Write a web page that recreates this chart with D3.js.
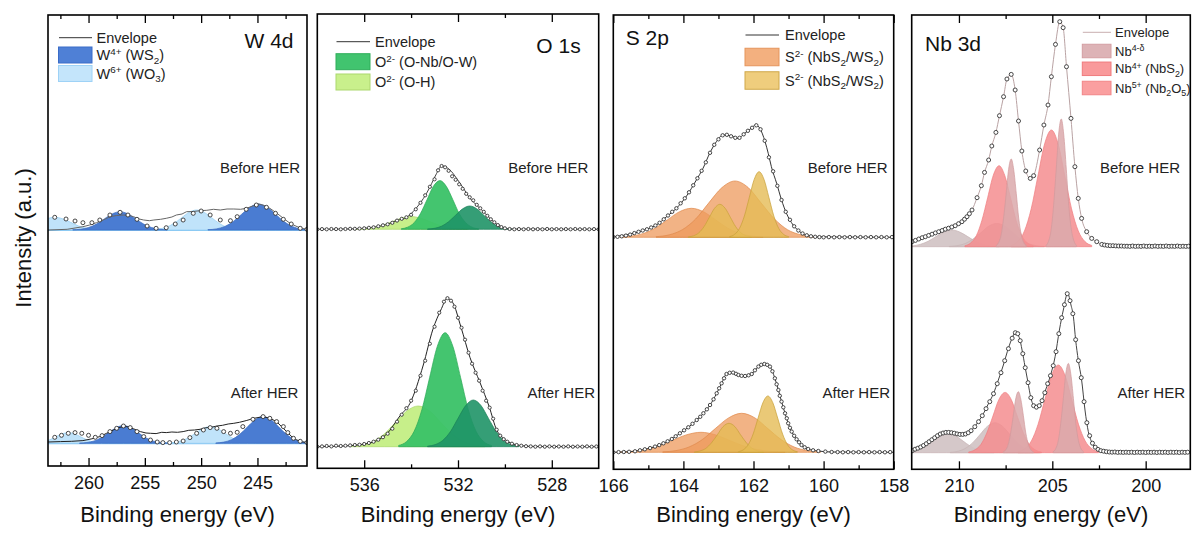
<!DOCTYPE html>
<html>
<head>
<meta charset="utf-8">
<script src="https://cdn.jsdelivr.net/npm/d3@7"></script>
<style>
  body { margin: 0; background: #fff; }
  svg { display: block; }
  text { font-family: "Liberation Sans", Arial, sans-serif; }
</style>
</head>
<body>
<svg id="chart" width="1192" height="536"></svg>
<script>
// ---------- shared labels ----------
const panelTitles = ["W 4d", "O 1s", "S 2p", "Nb 3d"];
const stateLabels = ["Before HER", "After HER"];
const xAxisTitle = "Binding energy (eV)";
const yAxisTitle = "Intensity (a.u.)";

// ---------- W 4d ----------
const w4dDomain = [263.6, 240.6];
const w4dMajorTicks = [260, 255, 250, 245];
const w4dMinorTicks = [262.5, 257.5, 252.5, 247.5, 242.5];
const w4dOffsets = [23.8, 2.47];
const w4dLegendLabels = [
  [["W"], ["4+", "sup"], [" (WS"], ["2", "sub"], [")"]],
  [["W"], ["6+", "sup"], [" (WO"], ["3", "sub"], [")"]]
];
const w4dBeforeCounts = [[263.0,1.27],[262.0,1.1],[261.2,0.9],[260.5,0.73],[259.7,0.73],[259.0,1.0],[258.1,1.5],[257.2,1.77],[256.5,1.5],[255.7,1.07],[254.8,0.4],[254.0,0.17],[253.1,0.23],[252.3,0.6],[251.6,1.0],[250.7,1.67],[250.0,1.9],[249.2,1.5],[248.3,1.0],[247.4,0.93],[246.8,1.33],[246.0,2.07],[245.1,2.5],[244.2,2.27],[243.4,1.67],[242.7,1.07],[242.0,0.6],[241.2,0.17],[240.6,0.07]];
const w4dBeforeEnvelope = [[263.6,0],[262.8,0.03],[261.9,0.07],[261.2,0.2],[260.5,0.33],[259.9,0.5],[259.3,0.73],[258.7,1.0],[258.1,1.33],[257.5,1.45],[256.9,1.5],[256.4,1.45],[256.0,1.33],[255.5,1.1],[255.1,1.0],[254.6,0.93],[254.2,1.0],[253.6,1.07],[253.1,1.17],[252.6,1.3],[252.2,1.5],[251.7,1.6],[251.3,1.83],[250.7,1.85],[250.1,1.93],[249.5,1.97],[248.9,2.07],[248.3,2.0],[247.7,2.1],[247.1,2.1],[246.5,2.07],[246.0,2.17],[245.4,2.4],[244.9,2.6],[244.4,2.45],[243.9,2.17],[243.3,1.7],[242.7,1.17],[242.2,0.75],[241.8,0.5],[241.2,0.2],[240.6,0.07]];
const w4dBeforeWO3a = [[258.8,0.01],[259.5,0.06],[260.2,0.17],[260.9,0.41],[261.6,0.77],[262.3,1.12],[263.0,1.27],[263.7,1.12],[264.4,0.77]];
const w4dBeforeWO3b = [[246.35,0.02],[247.03,0.09],[247.7,0.27],[248.38,0.65],[249.05,1.21],[249.73,1.76],[250.4,2.0],[251.08,1.76],[251.75,1.21],[252.43,0.65],[253.1,0.27],[253.78,0.09],[254.45,0.02]];
const w4dBeforeWS2a = [[253.0,0.02],[253.7,0.08],[254.4,0.25],[255.1,0.59],[255.8,1.11],[256.5,1.61],[257.2,1.83],[257.9,1.61],[258.6,1.11],[259.3,0.59],[260.0,0.25],[260.7,0.08],[261.4,0.02]];
const w4dBeforeWS2b = [[240.4,0.03],[241.15,0.11],[241.9,0.35],[242.65,0.85],[243.4,1.58],[244.15,2.29],[244.9,2.6],[245.65,2.29],[246.4,1.58],[247.15,0.85],[247.9,0.35],[248.65,0.11],[249.4,0.03]];
const w4dAfterCounts = [[263.0,0.6],[262.4,0.8],[261.8,1.0],[261.2,1.07],[260.6,1.0],[260.0,0.8],[259.4,0.6],[258.8,0.77],[258.1,1.17],[257.5,1.5],[256.9,1.73],[256.3,1.57],[255.7,1.17],[255.1,0.67],[254.5,0.33],[253.9,0.13],[253.4,0.07],[252.8,0.07],[252.2,0.13],[251.6,0.23],[251.0,0.57],[250.4,1.0],[249.8,1.33],[249.2,1.57],[248.6,1.5],[248.0,1.17],[247.4,1.0],[246.8,1.1],[246.3,1.67],[245.4,2.4],[244.5,2.67],[243.9,2.5],[243.3,2.17],[242.7,1.67],[242.3,1.07],[241.8,0.5],[241.2,0.2],[240.6,0.07]];
const w4dAfterEnvelope = [[263.6,0.13],[262.5,0.17],[261.5,0.2],[260.5,0.27],[259.7,0.45],[259.0,0.67],[258.4,1.0],[257.8,1.33],[257.2,1.6],[256.6,1.67],[256.0,1.45],[255.4,1.17],[254.9,1.03],[254.5,1.0],[254.0,0.97],[253.5,1.1],[253.1,1.07],[252.6,1.13],[252.1,1.1],[251.6,1.17],[251.1,1.3],[250.6,1.33],[250.1,1.4],[249.6,1.55],[249.1,1.6],[248.6,1.73],[248.1,1.8],[247.6,1.93],[247.1,2.0],[246.6,2.1],[246.0,2.27],[245.3,2.5],[244.5,2.67],[243.9,2.5],[243.3,2.17],[242.8,1.6],[242.4,1.17],[241.9,0.6],[241.5,0.33],[241.0,0.15],[240.6,0.07]];
const w4dAfterWO3a = [[258.5,0.01],[259.05,0.05],[259.6,0.14],[260.15,0.35],[260.7,0.65],[261.25,0.94],[261.8,1.07],[262.35,0.94],[262.9,0.65],[263.45,0.35],[264.0,0.14]];
const w4dAfterWO3b = [[245.3,0.02],[245.95,0.07],[246.6,0.23],[247.25,0.54],[247.9,1.01],[248.55,1.47],[249.2,1.67],[249.85,1.47],[250.5,1.01],[251.15,0.54],[251.8,0.23],[252.45,0.07],[253.1,0.02]];
const w4dAfterWS2a = [[253.0,0.02],[253.65,0.08],[254.3,0.24],[254.95,0.58],[255.6,1.07],[256.25,1.56],[256.9,1.77],[257.55,1.56],[258.2,1.07],[258.85,0.58],[259.5,0.24],[260.15,0.08],[260.8,0.02]];
const w4dAfterWS2b = [[240.3,0.03],[241.0,0.12],[241.7,0.36],[242.4,0.87],[243.1,1.62],[243.8,2.35],[244.5,2.67],[245.2,2.35],[245.9,1.62],[246.6,0.87],[247.3,0.36],[248.0,0.12],[248.7,0.03]];

// ---------- O 1s ----------
const o1sDomain = [538, 526];
const o1sMajorTicks = [536, 532, 528];
const o1sMinorTicks = [534, 530];
const o1sOffsets = [23.87, 2.13];
const o1sLegendLabels = [
  [["O"], ["2-", "sup"], [" (O-Nb/O-W)"]],
  [["O"], ["2-", "sup"], [" (O-H)"]]
];
const o1sBeforeCounts = [[538.0,0],[537.8,0.02],[537.6,0],[537.4,0.03],[537.2,0.02],[537.0,0],[536.8,0.03],[536.6,0.05],[536.4,0.05],[536.2,0.07],[536.0,0.1],[535.8,0.15],[535.6,0.2],[535.4,0.3],[535.2,0.4],[535.0,0.5],[534.8,0.65],[534.6,0.87],[534.4,1.05],[534.2,1.2],[534.0,1.45],[533.8,2.0],[533.6,2.65],[533.4,3.4],[533.2,4.25],[533.0,5.0],[532.85,5.9],[532.7,6.33],[532.55,6.2],[532.4,5.85],[532.25,5.3],[532.1,4.95],[531.95,4.5],[531.8,4.05],[531.65,3.55],[531.5,3.2],[531.35,2.9],[531.2,2.45],[531.05,2.1],[530.9,1.75],[530.75,1.35],[530.6,1.0],[530.45,0.7],[530.3,0.42],[530.15,0.22],[530.0,0.1],[529.8,0.03],[529.6,0],[529.4,0.02],[529.2,0],[529.0,0.03],[528.8,0],[528.6,0.02],[528.4,0],[528.2,0.03],[528.0,0],[527.8,0.02],[527.6,0],[527.4,0.02],[527.2,0],[527.0,0.03],[526.8,0],[526.6,0.02],[526.4,0],[526.2,0.02],[526.0,0]];
const o1sBeforeEnvelope = [[538.0,0],[536.4,0.05],[536.0,0.1],[535.5,0.25],[535.0,0.5],[534.62,0.87],[534.19,1.2],[533.91,1.77],[533.62,2.6],[533.34,3.6],[533.12,4.6],[532.91,5.6],[532.7,6.33],[532.34,5.93],[532.06,5.1],[531.77,4.1],[531.49,3.1],[531.21,2.43],[530.92,1.77],[530.64,1.1],[530.35,0.53],[530.07,0.17],[529.78,0.03],[526.0,0]];
const o1sBeforeHydroxyl = [[531.6,0.01],[532.0,0.06],[532.4,0.17],[532.8,0.41],[533.2,0.77],[533.6,1.12],[534.0,1.27],[534.4,1.12],[534.8,0.77],[535.2,0.41],[535.6,0.17],[536.0,0.06],[536.4,0.01]];
const o1sBeforeLatticeA = [[531.12,0.05],[531.4,0.21],[531.67,0.66],[531.95,1.58],[532.22,2.96],[532.5,4.3],[532.77,4.87],[533.05,4.3],[533.32,2.96],[533.6,1.58],[533.87,0.66],[534.15,0.21],[534.42,0.05]];
const o1sBeforeLatticeB = [[529.7,0.03],[530.0,0.1],[530.3,0.31],[530.6,0.76],[530.9,1.41],[531.2,2.05],[531.5,2.33],[531.8,2.05],[532.1,1.41],[532.4,0.76],[532.7,0.31],[533.0,0.1],[533.3,0.03]];
const o1sAfterCounts = [[538.0,0],[537.8,0.03],[537.6,0.07],[537.4,0.03],[537.2,0.1],[537.0,0.07],[536.8,0.1],[536.6,0.13],[536.4,0.17],[536.2,0.2],[536.0,0.27],[535.8,0.37],[535.6,0.5],[535.4,0.7],[535.2,0.95],[535.0,1.3],[534.8,1.8],[534.6,2.5],[534.4,3.2],[534.2,3.85],[534.0,4.6],[533.8,5.6],[533.6,7.1],[533.4,8.6],[533.2,10.3],[533.0,12.0],[532.8,13.4],[532.6,14.5],[532.45,14.85],[532.3,14.6],[532.15,14.0],[532.0,12.9],[531.85,11.9],[531.7,10.7],[531.55,9.4],[531.4,8.3],[531.25,7.4],[531.1,6.6],[530.95,5.6],[530.8,4.6],[530.65,3.9],[530.5,2.8],[530.35,1.7],[530.2,1.1],[530.05,0.75],[529.9,0.5],[529.7,0.3],[529.5,0.17],[529.3,0.1],[529.1,0.05],[528.9,0.03],[528.7,0],[528.5,0.03],[528.3,0],[528.1,0.03],[527.9,0],[527.7,0.02],[527.5,0],[527.3,0.03],[527.1,0],[526.9,0.02],[526.7,0],[526.5,0.03],[526.3,0],[526.1,0.02]];
const o1sAfterEnvelope = [[538.0,0],[536.9,0.07],[536.18,0.2],[535.47,0.6],[535.04,1.27],[534.47,3.1],[534.05,4.33],[533.48,8.17],[533.08,11.67],[532.7,13.83],[532.48,14.83],[532.23,14.43],[531.87,11.93],[531.49,8.93],[531.06,6.4],[530.67,4.0],[530.35,1.67],[530.1,0.93],[529.78,0.4],[529.36,0.13],[528.93,0.03],[526.0,0]];
const o1sAfterHydroxyl = [[530.85,0.04],[531.32,0.18],[531.8,0.55],[532.27,1.32],[532.75,2.47],[533.22,3.59],[533.7,4.07],[534.17,3.59],[534.65,2.47],[535.12,1.32],[535.6,0.55],[536.07,0.18],[536.55,0.04]];
const o1sAfterLatticeA = [[530.57,0.13],[530.9,0.5],[531.23,1.54],[531.56,3.7],[531.89,6.92],[532.22,10.05],[532.55,11.4],[532.88,10.05],[533.21,6.92],[533.54,3.7],[533.87,1.54],[534.2,0.5],[534.53,0.13]];
const o1sAfterLatticeB = [[529.4,0.05],[529.72,0.21],[530.05,0.63],[530.37,1.52],[530.7,2.83],[531.02,4.12],[531.35,4.67],[531.67,4.12],[532.0,2.83],[532.32,1.52],[532.65,0.63],[532.97,0.21],[533.3,0.05]];

// ---------- S 2p ----------
const s2pDomain = [166, 158];
const s2pMajorTicks = [166, 164, 162, 160, 158];
const s2pMinorTicks = [165, 163, 161, 159];
const s2pOffsets = [23.07, 1.57];
const s2pLegendLabels = [
  [["S"], ["2-", "sup"], [" (NbS"], ["2", "sub"], ["/WS"], ["2", "sub"], [")"]],
  [["S"], ["2-", "sup"], [" (NbS"], ["2", "sub"], ["/WS"], ["2", "sub"], [")"]]
];
const s2pBeforeCounts = [[166.0,0.03],[165.88,0.05],[165.76,0.1],[165.64,0.17],[165.52,0.27],[165.4,0.42],[165.28,0.55],[165.16,0.68],[165.04,0.8],[164.92,0.98],[164.8,1.18],[164.68,1.45],[164.56,1.8],[164.44,2.18],[164.32,2.55],[164.2,2.9],[164.08,3.4],[163.96,3.9],[163.84,4.5],[163.72,5.2],[163.6,5.9],[163.48,6.65],[163.36,7.5],[163.24,8.45],[163.12,9.25],[163.0,9.8],[162.88,10.2],[162.76,10.25],[162.64,10.1],[162.52,9.95],[162.4,9.95],[162.28,10.3],[162.16,10.65],[162.04,10.95],[161.92,11.2],[161.8,10.8],[161.68,9.65],[161.56,8.0],[161.44,6.6],[161.32,5.15],[161.2,3.73],[161.08,2.55],[160.96,1.75],[160.84,1.1],[160.72,0.68],[160.6,0.38],[160.48,0.2],[160.36,0.1],[160.24,0.05],[160.12,0.02],[160.0,0],[159.85,0.02],[159.7,0],[159.55,0.02],[159.4,0],[159.25,0.02],[159.1,0],[158.95,0.02],[158.8,0],[158.65,0.02],[158.5,0],[158.35,0.02],[158.2,0],[158.05,0.02]];
const s2pBeforeEnvelope = [[166.0,0.05],[165.43,0.4],[165.05,0.8],[164.77,1.23],[164.48,2.06],[164.2,2.9],[163.91,4.13],[163.63,5.73],[163.44,6.9],[163.25,8.4],[163.06,9.56],[162.87,10.23],[162.63,10.13],[162.44,9.9],[162.25,10.4],[162.1,10.8],[161.93,11.23],[161.82,10.9],[161.67,9.56],[161.58,8.4],[161.49,7.06],[161.34,5.4],[161.2,3.73],[161.06,2.4],[160.87,1.23],[160.68,0.56],[160.5,0.2],[160.2,0.05],[158.0,0]];
const s2pBeforeDoubletA1 = [[161.73,0.03],[162.07,0.13],[162.41,0.39],[162.75,0.94],[163.09,1.76],[163.43,2.56],[163.77,2.9],[164.11,2.56],[164.45,1.76],[164.79,0.94],[165.13,0.39],[165.47,0.13],[165.81,0.03]];
const s2pBeforeDoubletA2 = [[160.28,0.06],[160.65,0.25],[161.03,0.76],[161.4,1.83],[161.78,3.42],[162.15,4.97],[162.53,5.63],[162.9,4.97],[163.28,3.42],[163.65,1.83],[164.03,0.76],[164.4,0.25],[164.78,0.06]];
const s2pBeforeDoubletB1 = [[162.06,0.04],[162.21,0.15],[162.36,0.45],[162.51,1.07],[162.66,2.0],[162.81,2.91],[162.96,3.3],[163.11,2.91],[163.26,2.0],[163.41,1.07],[163.56,0.45],[163.71,0.15],[163.86,0.04]];
const s2pBeforeDoubletB2 = [[161.0,0.07],[161.14,0.29],[161.28,0.89],[161.42,2.13],[161.56,3.98],[161.7,5.79],[161.84,6.56],[161.98,5.79],[162.12,3.98],[162.26,2.13],[162.4,0.89],[162.54,0.29],[162.68,0.07]];
const s2pAfterCounts = [[166.0,0],[165.85,0.02],[165.7,0.03],[165.55,0.05],[165.38,0.1],[165.24,0.2],[165.1,0.3],[164.95,0.42],[164.81,0.57],[164.69,0.72],[164.57,0.9],[164.45,1.1],[164.33,1.33],[164.22,1.6],[164.1,1.9],[163.98,2.2],[163.86,2.5],[163.74,2.85],[163.62,3.23],[163.52,3.55],[163.43,3.9],[163.33,4.3],[163.24,4.73],[163.14,5.3],[163.05,5.9],[162.98,6.4],[162.91,6.9],[162.84,7.4],[162.77,7.83],[162.68,7.95],[162.58,7.97],[162.5,7.85],[162.43,7.73],[162.34,7.65],[162.24,7.63],[162.14,7.7],[162.05,7.83],[161.96,8.2],[161.86,8.57],[161.78,8.75],[161.69,8.83],[161.61,8.75],[161.53,8.57],[161.46,8.1],[161.39,7.4],[161.34,6.8],[161.29,6.23],[161.25,5.65],[161.2,5.07],[161.15,4.5],[161.1,3.9],[161.05,3.4],[161.01,2.9],[160.96,2.45],[160.91,2.07],[160.84,1.65],[160.77,1.3],[160.7,1.0],[160.63,0.73],[160.54,0.5],[160.44,0.33],[160.3,0.2],[160.15,0.13],[159.95,0.07],[159.77,0.03],[159.6,0.02],[159.45,0],[159.3,0.02],[159.15,0],[159.0,0.02],[158.85,0],[158.7,0.02],[158.55,0],[158.4,0.02],[158.25,0],[158.1,0.02]];
const s2pAfterEnvelope = [[166.0,0],[165.4,0.1],[165.1,0.3],[164.8,0.57],[164.57,0.9],[164.33,1.33],[164.1,1.9],[163.86,2.5],[163.62,3.23],[163.43,3.9],[163.24,4.73],[163.05,5.9],[162.91,6.9],[162.77,7.83],[162.6,7.97],[162.43,7.73],[162.24,7.63],[162.05,7.83],[161.86,8.57],[161.69,8.83],[161.53,8.57],[161.39,7.4],[161.29,6.23],[161.2,5.07],[161.1,3.9],[161.01,2.9],[160.91,2.07],[160.77,1.3],[160.63,0.73],[160.44,0.33],[160.15,0.13],[159.77,0.03],[158.0,0]];
const s2pAfterDoubletA1 = [[161.1,0.02],[161.5,0.09],[161.9,0.27],[162.3,0.65],[162.7,1.21],[163.1,1.76],[163.5,2.0],[163.9,1.76],[164.3,1.21],[164.7,0.65],[165.1,0.27],[165.5,0.09],[165.9,0.02]];
const s2pAfterDoubletA2 = [[160.09,0.04],[160.46,0.17],[160.84,0.53],[161.21,1.27],[161.59,2.37],[161.96,3.44],[162.34,3.9],[162.71,3.44],[163.09,2.37],[163.46,1.27],[163.84,0.53],[164.21,0.17],[164.59,0.04]];
const s2pAfterDoubletB1 = [[161.71,0.03],[161.88,0.13],[162.04,0.39],[162.2,0.94],[162.37,1.76],[162.53,2.56],[162.7,2.9],[162.87,2.56],[163.03,1.76],[163.2,0.94],[163.36,0.39],[163.53,0.13],[163.69,0.03]];
const s2pAfterDoubletB2 = [[160.75,0.06],[160.89,0.25],[161.03,0.76],[161.17,1.83],[161.31,3.42],[161.45,4.97],[161.59,5.63],[161.73,4.97],[161.87,3.42],[162.01,1.83],[162.15,0.76],[162.29,0.25],[162.43,0.06]];

// ---------- Nb 3d ----------
const nb3dDomain = [212.53, 197.61];
const nb3dMajorTicks = [210, 205, 200];
const nb3dMinorTicks = [207.5, 202.5];
const nb3dOffsets = [22.13, 1.53];
const nb3dLegendLabels = [
  [["Nb"], ["4-\u03b4", "sup"]],
  [["Nb"], ["4+", "sup"], [" (NbS"], ["2", "sub"], [")"]],
  [["Nb"], ["5+", "sup"], [" (Nb"], ["2", "sub"], ["O"], ["5", "sub"], [")"]]
];
const nb3dBeforeCounts = [[212.51,0.5],[212.33,0.63],[212.15,0.77],[211.97,0.9],[211.8,1.0],[211.62,1.13],[211.44,1.25],[211.26,1.38],[211.08,1.5],[210.9,1.62],[210.73,1.75],[210.56,1.85],[210.38,1.97],[210.2,2.1],[210.02,2.3],[209.84,2.5],[209.7,2.75],[209.57,3.0],[209.44,3.3],[209.3,3.67],[209.03,4.9],[208.8,6.1],[208.63,7.43],[208.41,8.67],[208.24,10.07],[208.02,11.43],[207.83,13.1],[207.61,15.0],[207.43,16.77],[207.2,17.23],[206.99,15.67],[206.81,12.57],[206.63,9.57],[206.42,7.57],[206.18,6.83],[206.0,7.1],[205.68,9.67],[205.45,12.17],[205.23,14.17],[205.05,17.0],[204.83,20.23],[204.6,22.5],[204.42,21.9],[204.24,18.0],[204.0,12.83],[203.79,8.0],[203.61,4.83],[203.43,2.83],[203.16,1.5],[202.89,0.83],[202.62,0.5],[202.35,0.23],[202.2,0.17],[202.05,0.13],[201.9,0.1],[201.75,0.1],[201.6,0.08],[201.45,0.07],[201.3,0.07],[201.15,0.05],[201.0,0.05],[200.85,0.03],[200.7,0.07],[200.55,0.03],[200.4,0.05],[200.25,0.03],[200.1,0.07],[199.95,0.03],[199.8,0.05],[199.65,0.03],[199.5,0.07],[199.35,0.03],[199.2,0.05],[199.05,0.03],[198.9,0.07],[198.75,0.03],[198.6,0.05],[198.45,0.03],[198.3,0.07],[198.15,0.03],[198.0,0.05],[197.85,0.03],[197.7,0.05]];
const nb3dBeforeEnvelope = [[212.53,0.5],[211.8,1.0],[211.08,1.5],[210.38,1.97],[209.84,2.5],[209.57,3.0],[209.3,3.67],[209.03,4.9],[208.8,6.1],[208.63,7.43],[208.41,8.67],[208.24,10.07],[208.02,11.43],[207.83,13.1],[207.61,15.0],[207.43,16.77],[207.2,17.23],[206.99,15.67],[206.81,12.57],[206.63,9.57],[206.42,7.57],[206.18,6.83],[206.0,7.1],[205.68,9.67],[205.45,12.17],[205.23,14.17],[205.05,17.0],[204.83,20.23],[204.6,22.5],[204.42,21.9],[204.24,18.0],[204.0,12.83],[203.79,8.0],[203.61,4.83],[203.43,2.83],[203.16,1.5],[202.89,0.83],[202.62,0.5],[202.35,0.23],[201.9,0.1],[201.0,0.05],[197.61,0.03]];
const nb3dBeforeSubLow = [[207.83,0.02],[208.26,0.07],[208.68,0.23],[209.11,0.54],[209.53,1.01],[209.96,1.47],[210.38,1.67],[210.8,1.47],[211.23,1.01],[211.65,0.54],[212.08,0.23],[212.5,0.07],[212.93,0.02]];
const nb3dBeforeSubHump = [[205.42,0.03],[205.84,0.1],[206.27,0.31],[206.7,0.76],[207.12,1.41],[207.55,2.06],[207.97,2.33],[208.4,2.06],[208.82,1.41],[209.25,0.76],[209.67,0.31],[210.1,0.1],[210.52,0.03]];
const nb3dBeforeOxideA = [[206.02,0.09],[206.33,0.36],[206.63,1.09],[206.94,2.63],[207.24,4.92],[207.55,7.14],[207.85,8.1],[208.16,7.14],[208.46,4.92],[208.77,2.63],[209.07,1.09],[209.38,0.36],[209.68,0.09]];
const nb3dBeforeOxideB = [[202.89,0.13],[203.25,0.51],[203.61,1.58],[203.97,3.79],[204.33,7.08],[204.69,10.29],[205.05,11.67],[205.41,10.29],[205.77,7.08],[206.13,3.79],[206.49,1.58],[206.85,0.51],[207.21,0.13]];
const nb3dBeforeSulfideA = [[206.39,0.1],[206.52,0.39],[206.66,1.18],[206.8,2.85],[206.93,5.32],[207.07,7.74],[207.2,8.77],[207.34,7.74],[207.47,5.32],[207.61,2.85],[207.74,1.18],[207.88,0.39],[208.01,0.1]];
const nb3dBeforeSulfideB = [[203.71,0.14],[203.84,0.56],[203.98,1.72],[204.12,4.15],[204.25,7.75],[204.39,11.26],[204.52,12.77],[204.66,11.26],[204.79,7.75],[204.93,4.15],[205.06,1.72],[205.2,0.56],[205.33,0.14]];
const nb3dAfterCounts = [[212.5,0.2],[212.35,0.35],[212.2,0.45],[212.05,0.57],[211.9,0.72],[211.75,0.9],[211.6,1.1],[211.45,1.3],[211.3,1.5],[211.15,1.7],[211.0,1.87],[210.85,1.97],[210.7,2.03],[210.55,2.03],[210.4,2.0],[210.25,1.95],[210.1,1.88],[209.95,1.83],[209.8,1.83],[209.65,1.87],[209.5,2.0],[209.35,2.2],[209.15,2.6],[208.95,3.1],[208.75,3.7],[208.55,4.4],[208.35,5.1],[208.15,5.9],[207.95,6.9],[207.75,8.0],[207.55,9.2],[207.35,10.4],[207.15,11.45],[206.98,12.0],[206.85,11.9],[206.72,11.2],[206.58,9.9],[206.45,8.5],[206.3,7.0],[206.15,5.5],[206.0,4.7],[205.85,4.55],[205.7,4.7],[205.55,5.2],[205.4,6.0],[205.25,6.9],[205.1,7.7],[204.95,8.7],[204.8,10.1],[204.65,11.9],[204.5,13.5],[204.35,14.8],[204.2,15.9],[204.05,15.2],[203.9,13.9],[203.75,11.3],[203.6,9.2],[203.45,7.5],[203.3,5.1],[203.15,3.0],[203.0,1.7],[202.85,0.95],[202.7,0.55],[202.55,0.33],[202.4,0.2],[202.25,0.15],[202.1,0.1],[201.95,0.07],[201.8,0.05],[201.65,0.07],[201.5,0.03],[201.35,0.05],[201.2,0.03],[201.05,0.05],[200.9,0.03],[200.75,0.05],[200.6,0.02],[200.45,0.05],[200.3,0.03],[200.15,0.05],[200.0,0.02],[199.85,0.05],[199.7,0.03],[199.55,0.05],[199.4,0.02],[199.25,0.05],[199.1,0.03],[198.95,0.05],[198.8,0.02],[198.65,0.05],[198.5,0.03],[198.35,0.05],[198.2,0.02],[198.05,0.05],[197.9,0.03],[197.75,0.05]];
const nb3dAfterEnvelope = [[212.53,0.22],[212.09,0.53],[211.73,0.93],[211.37,1.43],[211.01,1.87],[210.66,2.03],[210.3,1.97],[209.94,1.83],[209.59,1.9],[209.32,2.27],[209.05,2.87],[208.78,3.6],[208.43,4.87],[208.16,5.87],[207.89,7.27],[207.62,8.77],[207.41,10.1],[207.18,11.33],[206.98,12.0],[206.77,11.53],[206.62,10.27],[206.46,8.6],[206.32,7.2],[206.14,5.43],[205.98,4.67],[205.8,4.6],[205.57,5.1],[205.36,6.27],[205.09,7.77],[204.85,9.6],[204.62,12.27],[204.41,14.27],[204.18,15.93],[204.0,14.77],[203.87,13.6],[203.75,11.27],[203.61,9.27],[203.43,7.27],[203.25,4.27],[203.07,2.1],[202.9,1.1],[202.63,0.43],[202.27,0.17],[201.56,0.03],[197.61,0]];
const nb3dAfterSubLow = [[208.11,0.02],[208.54,0.09],[208.96,0.27],[209.39,0.65],[209.81,1.21],[210.24,1.76],[210.66,2.0],[211.09,1.76],[211.51,1.21],[211.94,0.65],[212.36,0.27],[212.79,0.09]];
const nb3dAfterSubHump = [[205.67,0.03],[206.07,0.13],[206.47,0.41],[206.87,0.98],[207.27,1.82],[207.67,2.65],[208.07,3.0],[208.47,2.65],[208.87,1.82],[209.27,0.98],[209.67,0.41],[210.07,0.13],[210.47,0.03]];
const nb3dAfterOxideA = [[205.58,0.07],[205.9,0.27],[206.23,0.81],[206.55,1.96],[206.88,3.66],[207.2,5.32],[207.53,6.03],[207.86,5.32],[208.18,3.66],[208.51,1.96],[208.83,0.81],[209.16,0.27],[209.48,0.07]];
const nb3dAfterOxideB = [[202.52,0.1],[202.88,0.39],[203.24,1.18],[203.6,2.85],[203.96,5.32],[204.32,7.74],[204.68,8.77],[205.04,7.74],[205.4,5.32],[205.76,2.85],[206.12,1.18],[206.48,0.39],[206.84,0.1]];
const nb3dAfterSulfideA = [[206.01,0.07],[206.14,0.27],[206.28,0.82],[206.42,1.98],[206.55,3.7],[206.69,5.38],[206.82,6.1],[206.96,5.38],[207.09,3.7],[207.23,1.98],[207.36,0.82],[207.5,0.27],[207.63,0.07]];
const nb3dAfterSulfideB = [[203.33,0.1],[203.46,0.39],[203.6,1.21],[203.74,2.9],[203.87,5.42],[204.01,7.88],[204.14,8.93],[204.28,7.88],[204.41,5.42],[204.55,2.9],[204.68,1.21],[204.82,0.39],[204.95,0.1]];

// ---------- styles ----------
const fills = {
  ws2:   { fill: "#4a7cd2", stroke: "#3d6cc0", opacity: 1 },
  wo3:   { fill: "#c0e3fa", stroke: "#93cdf3", opacity: 1 },
  oh:    { fill: "#c4ee84", stroke: "#a9d86a", opacity: 0.95 },
  latA:  { fill: "#3ac267", stroke: "#2aa955", opacity: 0.95 },
  latB:  { fill: "#1f9467", stroke: "#1a8058", opacity: 0.9 },
  sOr:   { fill: "#ee9a5c", stroke: "#e08a4c", opacity: 0.75 },
  sYe:   { fill: "#e5bb55", stroke: "#c9a13a", opacity: 0.8 },
  nbSub: { fill: "#d0c2c3", stroke: "#c7b4b5", opacity: 0.9 },
  nbOx:  { fill: "#f48d8f", stroke: "#f07f82", opacity: 0.85 },
  nbS:   { fill: "#dba9ac", stroke: "#d19a9e", opacity: 0.85 }
};
const swatches = {
  w: [{ fill: "#4f80d6", stroke: "#3a6cc8" }, { fill: "#c4e5fb", stroke: "#9ed2f6" }],
  o: [{ fill: "#41c46f", stroke: "#2fae5a" }, { fill: "#c9f08c", stroke: "#acd76e" }],
  s: [{ fill: "#f3b07f", stroke: "#e5955c" }, { fill: "#efcd7d", stroke: "#cfa84a" }],
  nb: [{ fill: "#ddb3b6", stroke: "#d49ea2" }, { fill: "#f99a9b", stroke: "#f07b7d" }, { fill: "#fa9fa0", stroke: "#f28587" }]
};

// panel table assembled from the arrays above
const panels = [
  {
    key: "w", domain: w4dDomain, majors: w4dMajorTicks, minors: w4dMinorTicks,
    frame: { left: 48, right: 307, top: 15, bottom: 466 },
    title: { x: 293.5, y: 48.3, anchor: "end" }, stateX: [300, 298.3],
    legend: { x: 58.5, w: 33.5, textX: 96.5, fs: 14.5, lineY: 37.7, rows: [55, 73.5], h: 16, env: "#333" },
    legendLabels: w4dLegendLabels, dotR: 2, envCurve: d3.curveLinear, baseColor: "#8ac8f5",
    spectra: [
      { offset: w4dOffsets[0], dots: w4dBeforeCounts, env: w4dBeforeEnvelope, envColor: "#666",
        comps: [[w4dBeforeWO3a, "wo3"], [w4dBeforeWO3b, "wo3"], [w4dBeforeWS2a, "ws2"], [w4dBeforeWS2b, "ws2"]] },
      { offset: w4dOffsets[1], dots: w4dAfterCounts, env: w4dAfterEnvelope, envColor: "#222",
        comps: [[w4dAfterWO3a, "wo3"], [w4dAfterWO3b, "wo3"], [w4dAfterWS2a, "ws2"], [w4dAfterWS2b, "ws2"]] }
    ]
  },
  {
    key: "o", domain: o1sDomain, majors: o1sMajorTicks, minors: o1sMinorTicks,
    frame: { left: 317.3, right: 598.7, top: 14, bottom: 468.3 },
    title: { x: 580.7, y: 52.7, anchor: "end" }, stateX: [588.3, 595],
    legend: { x: 336, w: 34, textX: 375, fs: 14.5, lineY: 41.7, rows: [61.7, 82], h: 16, env: "#333" },
    legendLabels: o1sLegendLabels, dotR: 1.6, envCurve: d3.curveMonotoneX,
    spectra: [
      { offset: o1sOffsets[0], dots: o1sBeforeCounts, env: o1sBeforeEnvelope, envColor: "#444",
        comps: [[o1sBeforeHydroxyl, "oh"], [o1sBeforeLatticeA, "latA"], [o1sBeforeLatticeB, "latB"]] },
      { offset: o1sOffsets[1], dots: o1sAfterCounts, env: o1sAfterEnvelope, envColor: "#222",
        comps: [[o1sAfterHydroxyl, "oh"], [o1sAfterLatticeA, "latA"], [o1sAfterLatticeB, "latB"]] }
    ]
  },
  {
    key: "s", domain: s2pDomain, majors: s2pMajorTicks, minors: s2pMinorTicks,
    frame: { left: 613.3, right: 893.7, top: 15, bottom: 469.3 },
    title: { x: 625.7, y: 45, anchor: "start" }, stateX: [887.7, 890],
    legend: { x: 745, w: 34, textX: 785, fs: 14.5, lineY: 35, rows: [57, 80.5], h: 17.5, env: "#333" },
    legendLabels: s2pLegendLabels, dotR: 1.7, envCurve: d3.curveMonotoneX,
    spectra: [
      { offset: s2pOffsets[0], dots: s2pBeforeCounts, env: s2pBeforeEnvelope, envColor: "#333",
        comps: [[s2pBeforeDoubletA1, "sOr"], [s2pBeforeDoubletA2, "sOr"], [s2pBeforeDoubletB1, "sYe"], [s2pBeforeDoubletB2, "sYe"]] },
      { offset: s2pOffsets[1], dots: s2pAfterCounts, env: s2pAfterEnvelope, envColor: "#333",
        comps: [[s2pAfterDoubletA1, "sOr"], [s2pAfterDoubletA2, "sOr"], [s2pAfterDoubletB1, "sYe"], [s2pAfterDoubletB2, "sYe"]] }
    ]
  },
  {
    key: "nb", domain: nb3dDomain, majors: nb3dMajorTicks, minors: nb3dMinorTicks,
    frame: { left: 911.7, right: 1190.3, top: 15, bottom: 469.3 },
    title: { x: 925, y: 50.7, anchor: "start" }, stateX: [1180, 1185],
    legend: { x: 1082.3, w: 28.7, textX: 1115, fs: 13, lineY: 32.3, rows: [51, 68.8, 88], h: 13.5, env: "#c8aeb0" },
    legendLabels: nb3dLegendLabels, dotR: 2, envCurve: d3.curveMonotoneX,
    spectra: [
      { offset: nb3dOffsets[0], dots: nb3dBeforeCounts, env: nb3dBeforeEnvelope, envColor: "#b9a2a3",
        comps: [[nb3dBeforeSubLow, "nbSub"], [nb3dBeforeSubHump, "nbSub"], [nb3dBeforeOxideA, "nbOx"], [nb3dBeforeOxideB, "nbOx"], [nb3dBeforeSulfideA, "nbS"], [nb3dBeforeSulfideB, "nbS"]] },
      { offset: nb3dOffsets[1], dots: nb3dAfterCounts, env: nb3dAfterEnvelope, envColor: "#444",
        comps: [[nb3dAfterSubLow, "nbSub"], [nb3dAfterSubHump, "nbSub"], [nb3dAfterOxideA, "nbOx"], [nb3dAfterOxideB, "nbOx"], [nb3dAfterSulfideA, "nbS"], [nb3dAfterSulfideB, "nbS"]] }
    ]
  }
];

// ---------- drawing ----------
const svg = d3.select("#chart");
const FONT = '"Liberation Sans", Arial, sans-serif';
const y = d3.scaleLinear().domain([0, 45.3]).range([468, 15]);
const stateY = [172.7, 398.3];

// text with superscript / subscript pieces
function richText(sel, segs, fs) {
  let shift = 0;
  segs.forEach(([t, kind]) => {
    const target = kind === "sup" ? -0.36 * fs : kind === "sub" ? 0.26 * fs : 0;
    sel.append("tspan")
      .attr("dy", target - shift)
      .attr("font-size", kind ? fs * 0.68 : fs)
      .text(t);
    shift = target;
  });
}

panels.forEach((p, i) => {
  const f = p.frame;
  const x = d3.scaleLinear().domain(p.domain).range([f.left, f.right]);
  const g = svg.append("g");

  const clipId = "clip-" + p.key;
  svg.append("clipPath").attr("id", clipId)
    .append("rect")
    .attr("x", f.left).attr("y", f.top)
    .attr("width", f.right - f.left).attr("height", f.bottom - f.top);

  const plot = g.append("g").attr("clip-path", `url(#${clipId})`);

  p.spectra.forEach((s, si) => {
    const base = s.offset;

    // coloured baseline under the fitted components
    if (p.baseColor) {
      plot.append("line")
        .attr("x1", f.left).attr("x2", f.right)
        .attr("y1", y(base)).attr("y2", y(base))
        .attr("stroke", p.baseColor).attr("stroke-width", 2);
    }

    const area = d3.area()
      .x(d => x(d[0]))
      .y0(y(base))
      .y1(d => y(base + d[1]))
      .curve(d3.curveMonotoneX);
    s.comps.forEach(([data, styleKey]) => {
      const st = fills[styleKey];
      plot.append("path")
        .datum(d3.sort(data, d => x(d[0])))
        .attr("d", area)
        .attr("fill", st.fill)
        .attr("fill-opacity", st.opacity)
        .attr("stroke", st.stroke)
        .attr("stroke-width", 0.8)
        .attr("stroke-opacity", 0.9);
    });

    const line = d3.line()
      .x(d => x(d[0]))
      .y(d => y(base + d[1]))
      .curve(p.envCurve);
    plot.append("path")
      .datum(d3.sort(s.env, d => x(d[0])))
      .attr("d", line)
      .attr("fill", "none")
      .attr("stroke", s.envColor)
      .attr("stroke-width", 1);

    plot.append("g")
      .selectAll("circle")
      .data(s.dots)
      .join("circle")
      .attr("cx", d => x(d[0]))
      .attr("cy", d => y(base + d[1]))
      .attr("r", p.dotR)
      .attr("fill", "#fff")
      .attr("stroke", "#333")
      .attr("stroke-width", 0.9);

    g.append("text")
      .attr("x", p.stateX[si])
      .attr("y", stateY[si])
      .attr("text-anchor", "end")
      .attr("font-size", 15)
      .attr("fill", "#222")
      .text(stateLabels[si]);
  });

  // axes: labelled majors and short minors, mirrored on the top edge
  const styleAxis = sel => {
    sel.select(".domain").remove();
    sel.selectAll("line").attr("stroke", "#000").attr("stroke-width", 1.3);
    sel.selectAll("text").attr("font-family", FONT).attr("font-size", 18).attr("fill", "#111");
  };
  g.append("g").attr("transform", `translate(0,${f.bottom})`)
    .call(d3.axisBottom(x).tickValues(p.majors).tickSize(-8).tickPadding(10).tickFormat(d3.format("d")))
    .call(styleAxis);
  g.append("g").attr("transform", `translate(0,${f.bottom})`)
    .call(d3.axisBottom(x).tickValues(p.minors).tickSize(-4).tickFormat(""))
    .call(styleAxis);
  g.append("g").attr("transform", `translate(0,${f.top})`)
    .call(d3.axisTop(x).tickValues(p.majors).tickSize(-8).tickFormat(""))
    .call(styleAxis);
  g.append("g").attr("transform", `translate(0,${f.top})`)
    .call(d3.axisTop(x).tickValues(p.minors).tickSize(-4).tickFormat(""))
    .call(styleAxis);

  g.append("rect")
    .attr("x", f.left).attr("y", f.top)
    .attr("width", f.right - f.left).attr("height", f.bottom - f.top)
    .attr("fill", "none").attr("stroke", "#000").attr("stroke-width", 1.6);

  g.append("text")
    .attr("x", (f.left + f.right) / 2)
    .attr("y", 521.5)
    .attr("text-anchor", "middle")
    .attr("font-size", 22)
    .attr("fill", "#111")
    .text(xAxisTitle);

  g.append("text")
    .attr("x", p.title.x).attr("y", p.title.y)
    .attr("text-anchor", p.title.anchor)
    .attr("font-size", 21)
    .attr("fill", "#111")
    .text(panelTitles[i]);

  // legend
  const L = p.legend;
  const lg = g.append("g");
  lg.append("line")
    .attr("x1", L.x + 0.5).attr("x2", L.x + L.w)
    .attr("y1", L.lineY).attr("y2", L.lineY)
    .attr("stroke", L.env).attr("stroke-width", 1);
  lg.append("text")
    .attr("x", L.textX).attr("y", L.lineY + L.fs * 0.35)
    .attr("font-size", L.fs).attr("fill", "#222")
    .text("Envelope");
  p.legendLabels.forEach((segs, k) => {
    const sw = swatches[p.key][k];
    lg.append("rect")
      .attr("x", L.x).attr("y", L.rows[k] - L.h / 2)
      .attr("width", L.w).attr("height", L.h)
      .attr("fill", sw.fill).attr("stroke", sw.stroke).attr("stroke-width", 1);
    const t = lg.append("text")
      .attr("x", L.textX).attr("y", L.rows[k] + L.fs * 0.35)
      .attr("font-size", L.fs).attr("fill", "#222");
    richText(t, segs, L.fs);
  });
});

svg.append("text")
  .attr("transform", "translate(31,238) rotate(-90)")
  .attr("text-anchor", "middle")
  .attr("font-size", 22)
  .attr("fill", "#111")
  .text(yAxisTitle);
</script>
</body>
</html>
